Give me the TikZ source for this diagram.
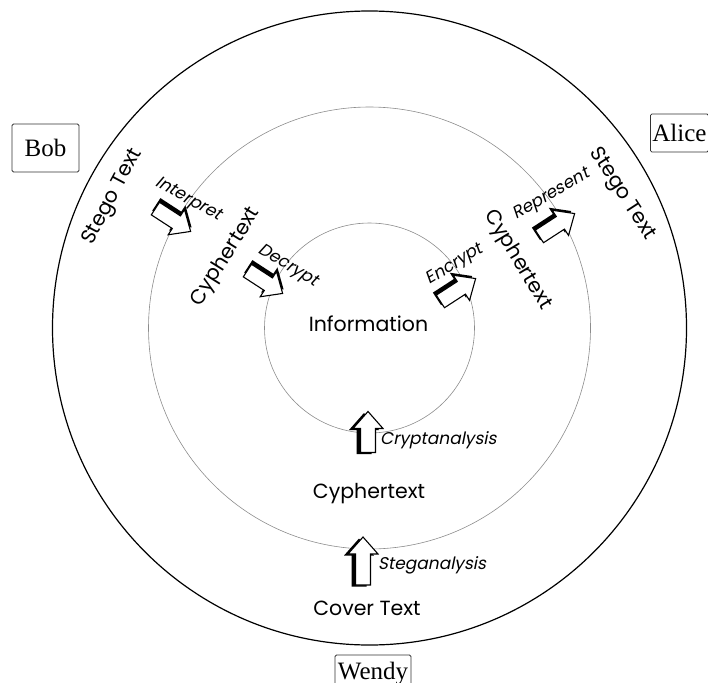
\documentclass[tikz,border=0pt]{standalone}
\usepackage{fontspec}
\setmainfont{Poppins}
\newfontfamily\personfont{Liberation Serif}
\newfontfamily\slantfont[FakeSlant=0.2]{Poppins}

\begin{document}
\begin{tikzpicture}[x=1pt, y=-1pt,
  outerring/.style={draw=black, line width=1.2pt},
  ring/.style={draw=black!45, line width=0.6pt},
  ringlabel/.style={font=\fontsize{20.5}{24}\selectfont, inner sep=0pt},
  steplabel/.style={font=\slantfont\fontsize{17}{20}\selectfont, inner sep=0pt},
  person/.style={draw=black!80, line width=0.8pt, rounded corners=1.5pt,
    font=\personfont\fontsize{25}{30}\selectfont, inner sep=0pt},
  % hollow block arrow pointing along +x, with a dark shadow on its left side
  pics/blockarr/.style={code={
    \fill[black, shift={(-1.5,-4)}]
      (-#1/2,-7.5) -- ({#1/2-17},-7.5) -- ({#1/2-17},-15) -- (#1/2,0)
      -- ({#1/2-17},15) -- ({#1/2-17},7.5) -- (-#1/2,7.5) -- cycle;
    \draw[fill=white, line width=1.1pt]
      (-#1/2,-7.5) -- ({#1/2-17},-7.5) -- ({#1/2-17},-15) -- (#1/2,0)
      -- ({#1/2-17},15) -- ({#1/2-17},7.5) -- (-#1/2,7.5) -- cycle;
  }}]
\useasboundingbox (0,0) rectangle (708,682);
\clip (0,0) rectangle (708,682);

% the three nested layers
\draw[outerring] (369.5,328) circle[radius=317pt];
\draw[ring] (369.5,328) circle[radius=221pt];
\draw[ring] (369.5,328) circle[radius=105pt];

% layer names
\node[ringlabel, anchor=base] (info)  at (368.5,331) {Information};
\node[ringlabel, anchor=base] (ctext) at (369,498) {Cyphertext};
\node[ringlabel, anchor=base] (cover) at (367,615) {Cover Text};
\node[ringlabel, rotate=62]  (stegoL) at (113,197) {Stego Text};
\node[ringlabel, rotate=-57] (stegoR) at (622,194) {Stego Text};
\node[ringlabel, rotate=58]  (cyphL)  at (226,257) {Cyphertext};
\node[ringlabel, rotate=-59] (cyphR)  at (517.5,260) {Cyphertext};

% transformations between layers
\pic[rotate=-33] at (173,220) {blockarr=42};
\pic[rotate=-33] at (265,282) {blockarr=42};
\pic[rotate=33]  at (458,290) {blockarr=42};
\pic[rotate=33]  at (557,225) {blockarr=42};
\pic[rotate=90]  at (368,432) {blockarr=41};
\pic[rotate=90]  at (363,561) {blockarr=48};

\node[steplabel, rotate=-29] (interp) at (188,200) {Interpret};
\node[steplabel, rotate=-31] (decr)   at (287.5,266) {Decrypt};
\node[steplabel, rotate=31]  (encr)   at (455,265) {Encrypt};
\node[steplabel, rotate=30]  (repr)   at (551.5,195) {Represent};
\node[steplabel, anchor=base west] (crypta) at (380,444) {Cryptanalysis};
\node[steplabel, anchor=base west] (stega)  at (378,569) {Steganalysis};

% the parties
\node[person, minimum width=67pt, minimum height=48pt] (bob) at (45.5,148) {Bob};
\node[person, anchor=west, minimum height=38pt, inner xsep=2pt] (alice) at (650,133) {Alice};
\node[person, minimum width=76pt, minimum height=38pt] (wendy) at (373,674) {Wendy};
\end{tikzpicture}
\end{document}
